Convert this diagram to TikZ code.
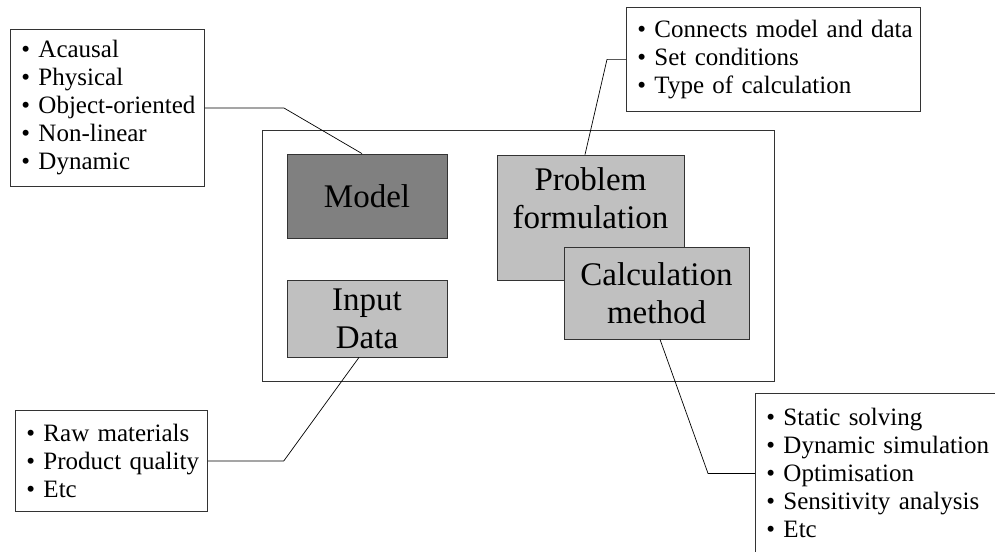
\documentclass[tikz,border=0pt]{standalone}
\usepackage{fontspec}
\setmainfont{Liberation Serif}
\usepackage{xcolor}
\usetikzlibrary{calc}
\definecolor{modelgray}{HTML}{808080}
\definecolor{boxgray}{HTML}{C0C0C0}
\newcommand{\bul}[1]{\mbox{\textbullet\ #1}}

\begin{document}
\begin{tikzpicture}[x=1pt,y=-1pt,
  mainbox/.style={draw=black!80, line width=0.8pt, fill=boxgray, align=center,
    inner sep=0pt, font=\fontsize{33}{38}\selectfont},
  notebox/.style={draw=black!80, line width=0.8pt, fill=white, align=left,
    anchor=north west, inner xsep=11pt, inner ysep=0pt,
    font=\fontsize{25}{28}\selectfont},
  link/.style={black, line width=0.7pt}]
\useasboundingbox (0,0) rectangle (995,551);

% Frame
\draw[black!80, line width=0.8pt] (262,130) rectangle (774,381);

% Main blocks
\node[mainbox, fill=modelgray, minimum width=160, minimum height=84] (model) at (367,196) {Model};
\node[mainbox, minimum width=160, minimum height=77] (data) at (367,318.5) {Input\\Data};
\node[mainbox, minimum width=187, minimum height=125] (problem) at (590.5,217.5) {Problem\\formulation\\~};
\node[mainbox, minimum width=185, minimum height=92] (calc) at (656.5,293) {Calculation\\method};

% Notes
\node[notebox, text width=172, minimum height=157] (modelnotes) at (10,29)
  {\bul{Acausal}\\\bul{Physical}\\\bul{Object-oriented}\\\bul{Non-linear}\\\bul{Dynamic}};
\node[notebox, text width=272, minimum height=104] (problemnotes) at (626,7)
  {\bul{Connects model and data}\\\bul{Set conditions}\\\bul{Type of calculation}};
\node[notebox, text width=170, minimum height=101] (datanotes) at (15,410)
  {\bul{Raw materials}\\\bul{Product quality}\\\bul{Etc}};
\node[notebox, text width=238, minimum height=160] (calcnotes) at (755,393)
  {\bul{Static solving}\\\bul{Dynamic simulation}\\\bul{Optimisation}\\\bul{Sensitivity analysis}\\\bul{Etc}};

% Links
\draw[link] (modelnotes.east) -- ++(79,0) -- ($(model.north)+(-5,0)$);
\draw[link] (problemnotes.west) -- ++(-19,0) -- ($(problem.north)+(-5.5,0)$);
\draw[link] (datanotes.east) -- ++(76,0) -- ($(data.south)+(-8,0)$);
\draw[link] ($(calc.south)+(3.5,0)$) -- ($(calcnotes.west)+(-47,0)$) -- (calcnotes.west);
\end{tikzpicture}
\end{document}
